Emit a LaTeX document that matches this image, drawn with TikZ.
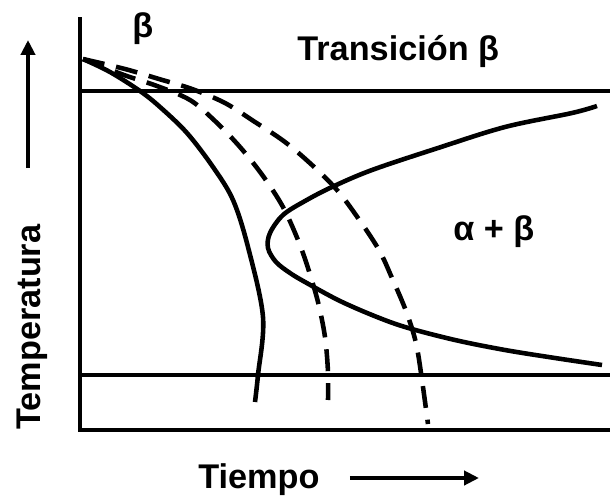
\documentclass[tikz,border=0pt]{standalone}
\usepackage{fontspec}
\setmainfont{Liberation Sans}
\usetikzlibrary{arrows.meta}

\begin{document}
\begin{tikzpicture}[
    x=0.02cm, y=-0.02cm,
    font=\fontsize{19.5}{23}\selectfont\bfseries
  ]

  % Style definitions
  \tikzset{
    axis/.style={line width=2.6pt, line join=miter},
    level/.style={line width=2.6pt},
    curve/.style={line width=2.6pt, smooth, tension=0.55},
    dashcurve/.style={curve, dash pattern=on 12.5pt off 6.8pt},
    dirarrow/.style={line width=2.8pt, -{Triangle[length=8.5pt, width=8pt]}},
    lbl/.style={inner sep=0pt, anchor=base west}
  }

  \useasboundingbox (0,0) rectangle (610,498);

  % Axes
  \coordinate (O) at (80,430);
  \coordinate (ytop) at (80,17);
  \coordinate (xend) at (610,430);
  \draw[axis] (ytop) -- (O) -- (xend);

  % Transition levels
  \coordinate (bt-l) at (80,91);
  \coordinate (bt-r) at (610,91);
  \coordinate (ms-l) at (80,375);
  \coordinate (ms-r) at (610,375);
  \draw[level] (bt-l) -- (bt-r);
  \draw[level] (ms-l) -- (ms-r);

  % Cooling curves from the start point
  \coordinate (start) at (83,59);
  \draw[curve] plot coordinates {(start) (110,72) (140,91) (160,107) (187,133)
    (213,167) (233,200) (248,247) (263,317) (258,375) (255,402)};
  \draw[dashcurve] plot coordinates {(start) (124,75) (157,86) (190,100) (215,121)
    (240,147) (263,176) (283,207) (298,240) (308,268) (318,302) (325,337)
    (328,372) (328,400)};
  \draw[dashcurve] plot coordinates {(start) (125,69) (159,79) (192,89) (225,103)
    (255,122) (285,142) (312,165) (337,190) (358,218) (379,250) (392,278)
    (406,311) (416,343) (422,380) (428,424)};

  % C-curve (alpha + beta)
  \draw[curve] plot coordinates {(597,106) (572,113) (505,127) (438,148) (372,170)
    (332,187) (305,201) (283,215) (270,233) (268,248) (276,262) (290,273)
    (305,282) (338,300) (372,315) (405,327) (455,340) (505,350) (555,358)
    (602,365)};

  % Labels
  \node (beta) [lbl] at (132,37) {β};
  \node (trans) [lbl] at (297,60) {Transición β};
  \node (ab) [lbl] at (453,240) {α + β};
  \node (tiempo) [lbl] at (198,488) {Tiempo};
  \node (temp) [lbl, rotate=90] at (40,430) {Temperatura};

  % Direction arrows
  \coordinate (ta-s) at (28,168);
  \coordinate (ta-e) at (28,40);
  \coordinate (xa-s) at (350,478);
  \coordinate (xa-e) at (479,478);
  \draw[dirarrow] (ta-s) -- (ta-e);
  \draw[dirarrow] (xa-s) -- (xa-e);

\end{tikzpicture}
\end{document}
